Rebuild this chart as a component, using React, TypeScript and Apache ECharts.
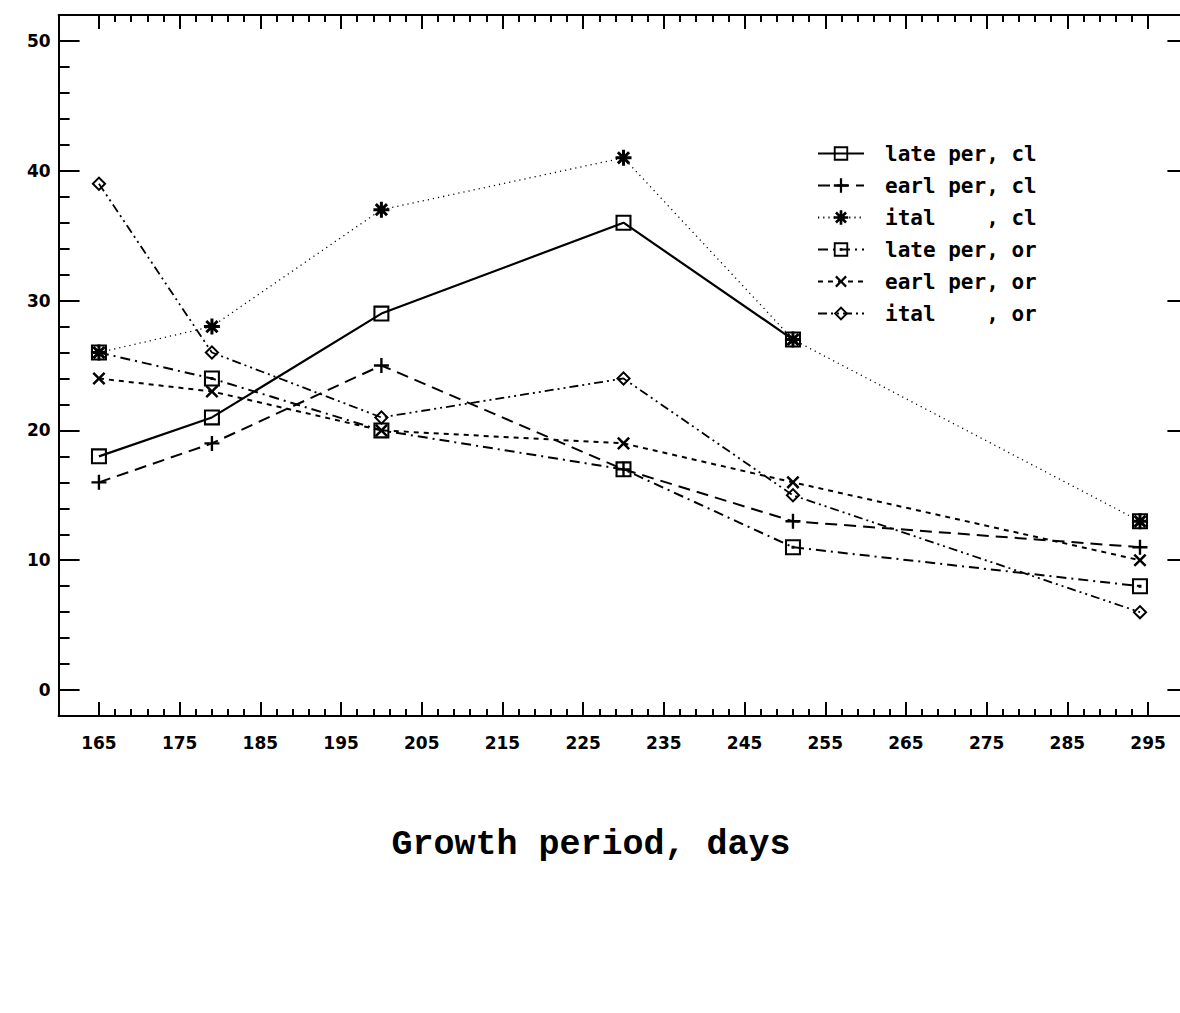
import React, { useEffect, useRef } from "react";
import * as echarts from "echarts";

// ---- data ----
const xDays = [165, 179, 200, 230, 251, 294];
const lateCl = [18, 21, 29, 36, 27, 13];
const earlCl = [16, 19, 25, 17, 13, 11];
const italCl = [26, 28, 37, 41, 27, 13];
const lateOr = [26, 24, 20, 17, 11, 8];
const earlOr = [24, 23, 20, 19, 16, 10];
const italOr = [39, 26, 21, 24, 15, 6];
// the solid "late per, cl" line is not drawn into its last point
const lateClGapBefore = 5;

const seriesNames = [
  "late per, cl",
  "earl per, cl",
  "ital    , cl",
  "late per, or",
  "earl per, or",
  "ital    , or",
];

const xMajorTicks = [165, 175, 185, 195, 205, 215, 225, 235, 245, 255, 265, 275, 285, 295];
const xMinorTicks: number[] = [];
for (let v = 167; v < 295; v += 2) if ((v - 165) % 10 !== 0) xMinorTicks.push(v);
const yMajorTicks = [0, 10, 20, 30, 40, 50];
const yMinorTicks: number[] = [];
for (let v = 2; v < 50; v += 2) if (v % 10 !== 0) yMinorTicks.push(v);

const X_MIN = 160;
const X_MAX = 300;
const Y_MIN = -2;
const Y_MAX = 52;

const xAxisTitle = "Growth period, days";

// ---- symbols ----
const squarePath = "path://M-7,-7H7V7H-7Z M-5.2,-5.2V5.2H5.2V-5.2Z";
const squareDotPath = "path://M-7,-7H7V7H-7Z M-5.2,-5.2V5.2H5.2V-5.2Z M-1.3,-1.3H1.3V1.3H-1.3Z";
const plusPath = "path://M-1.1,-7H1.1V-1.1H7V1.1H1.1V7H-1.1V1.1H-7V-1.1H-1.1Z";
const diamondPath = "path://M0,-7L7,0L0,7L-7,0Z M0,-4.4L-4.4,0L0,4.4L4.4,0Z";
const starPath =
  "path://M-1.3,-7H1.3V-1.3H7V1.3H1.3V7H-1.3V1.3H-7V-1.3H-1.3Z " +
  "M-5.8,-4L-4,-5.8L5.8,4L4,5.8Z " +
  "M4,-5.8L5.8,-4L-4,5.8L-5.8,4Z";

const AXIS_FONT = { fontFamily: "DejaVu Sans", fontWeight: "bold" as const, fontSize: 17, color: "#000" };

function pairs(vals: number[]) {
  return xDays.map((x, i) => [x, vals[i]]);
}

export default function App() {
  const ref = useRef<HTMLDivElement>(null);

  useEffect(() => {
    if (!ref.current) return;
    const chart = echarts.init(ref.current, undefined, { renderer: "svg" });

    const lateClData: any[] = pairs(lateCl);
    lateClData.splice(lateClGapBefore, 0, ["-", "-"]);

    const mkSeries = (
      name: string,
      data: any[],
      symbol: string,
      symbolSize: number,
      lineType: any,
      width: number,
      rotate = 0
    ) => ({
      name,
      type: "line",
      data,
      symbol,
      symbolSize,
      symbolRotate: rotate,
      showSymbol: true,
      connectNulls: false,
      smooth: false,
      silent: true,
      emphasis: { disabled: true },
      itemStyle: { color: "#000", borderWidth: 0 },
      lineStyle: { color: "#000", width, type: lineType },
    });

    const axisLine = { show: true, onZero: false, lineStyle: { color: "#000", width: 2 } };
    const noLine = { show: false, onZero: false };

    chart.setOption({
      animation: false,
      backgroundColor: "#fff",
      grid: { left: 58.6, right: 11.6, top: 15, bottom: 297, containLabel: false },
      legend: {
        show: true,
        orient: "vertical",
        left: 812,
        top: 138,
        itemWidth: 46,
        itemHeight: 18,
        itemGap: 11,
        selectedMode: false,
        data: seriesNames,
        textStyle: {
          fontFamily: "DejaVu Sans Mono",
          fontWeight: "bold",
          fontSize: 21,
          lineHeight: 20,
          color: "#000",
          padding: [0, 0, 0, 16],
        },
      },
      xAxis: [
        {
          type: "value",
          position: "bottom",
          min: X_MIN,
          max: X_MAX,
          axisLine,
          splitLine: { show: false },
          axisTick: { show: true, inside: true, length: 14, customValues: xMajorTicks, lineStyle: { color: "#000", width: 2 } },
          axisLabel: { show: true, margin: 18, customValues: xMajorTicks, ...AXIS_FONT },
        },
        {
          type: "value",
          position: "bottom",
          min: X_MIN,
          max: X_MAX,
          axisLine: noLine,
          splitLine: { show: false },
          axisTick: { show: true, inside: true, length: 7, customValues: xMinorTicks, lineStyle: { color: "#000", width: 2 } },
          axisLabel: { show: false },
        },
        {
          type: "value",
          position: "top",
          min: X_MIN,
          max: X_MAX,
          axisLine,
          splitLine: { show: false },
          axisTick: { show: true, inside: true, length: 14, customValues: xMajorTicks, lineStyle: { color: "#000", width: 2 } },
          axisLabel: { show: false },
        },
        {
          type: "value",
          position: "top",
          min: X_MIN,
          max: X_MAX,
          axisLine: noLine,
          splitLine: { show: false },
          axisTick: { show: true, inside: true, length: 7, customValues: xMinorTicks, lineStyle: { color: "#000", width: 2 } },
          axisLabel: { show: false },
        },
      ],
      yAxis: [
        {
          type: "value",
          position: "left",
          min: Y_MIN,
          max: Y_MAX,
          axisLine,
          splitLine: { show: false },
          axisTick: { show: true, inside: true, length: 21, customValues: yMajorTicks, lineStyle: { color: "#000", width: 2 } },
          axisLabel: { show: true, margin: 8, customValues: yMajorTicks, ...AXIS_FONT },
        },
        {
          type: "value",
          position: "left",
          min: Y_MIN,
          max: Y_MAX,
          axisLine: noLine,
          splitLine: { show: false },
          axisTick: { show: true, inside: true, length: 11, customValues: yMinorTicks, lineStyle: { color: "#000", width: 2 } },
          axisLabel: { show: false },
        },
        {
          type: "value",
          position: "right",
          min: Y_MIN,
          max: Y_MAX,
          axisLine,
          splitLine: { show: false },
          axisTick: { show: true, inside: true, length: 21, customValues: yMajorTicks, lineStyle: { color: "#000", width: 2 } },
          axisLabel: { show: false },
        },
      ],
      graphic: [
        {
          type: "text",
          x: 591,
          y: 845,
          style: {
            text: xAxisTitle,
            fill: "#000",
            font: "bold 35px 'Liberation Mono', 'DejaVu Sans Mono', monospace",
            textAlign: "center",
            textVerticalAlign: "middle",
          },
        },
      ],
      series: [
        mkSeries(seriesNames[0], lateClData, squarePath, 16, "solid", 2.2),
        mkSeries(seriesNames[1], pairs(earlCl), plusPath, 15, [12, 7], 2),
        mkSeries(seriesNames[2], pairs(italCl), starPath, 16, [1.2, 4], 1.3),
        mkSeries(seriesNames[3], pairs(lateOr), squareDotPath, 16, [10, 5, 2, 5], 2),
        mkSeries(seriesNames[4], pairs(earlOr), plusPath, 16, [5, 5], 2, 45),
        mkSeries(seriesNames[5], pairs(italOr), diamondPath, 15, [9, 4, 2, 4, 2, 4], 1.8),
      ],
    });

    return () => chart.dispose();
  }, []);

  return (
    <div style={{ position: "fixed", left: 0, top: 0, width: 1180, height: 1013, overflow: "hidden", background: "#fff" }}>
      <div ref={ref} style={{ width: 1200, height: 1013 }} />
    </div>
  );
}
